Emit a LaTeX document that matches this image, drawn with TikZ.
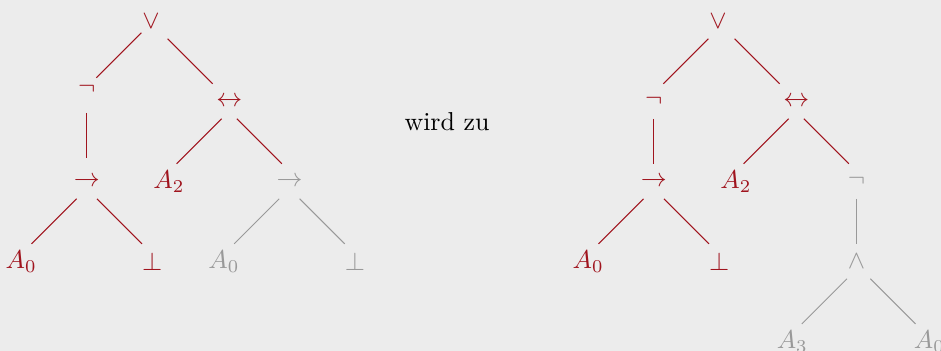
\documentclass[tikz,border=0pt]{standalone}
\usetikzlibrary{calc}
\definecolor{formred}{HTML}{A0141E}
\definecolor{formgray}{HTML}{999999}
\definecolor{paper}{HTML}{ECECEC}
\begin{document}
\begin{tikzpicture}[
  x=1pt, y=1pt,
  level distance=30.9pt,
  level 1/.style={sibling distance=55pt},
  level 2/.style={sibling distance=46.5pt},
  level 3/.style={sibling distance=50.6pt},
  level 4/.style={sibling distance=52.9pt},
  edge from parent path={let \p1=(\tikzparentnode.center), \p2=(\tikzchildnode.center),
    \n1={sign(\x2-\x1)} in
    ($(\p1)!.5!(\p2)$) +(-8.7pt*\n1,8.7pt) -- +(8.7pt*\n1,-8.7pt)},
  kept/.style={formred},
  dropped/.style={formgray}
]
\fill[paper] (0,0) rectangle (363.3,-135.5);
\useasboundingbox (0,0) rectangle (363.3,-135.5);

% before
\path[kept] (58.3,-8.2) node (lroot) {$\vee$}
  child { node[xshift=2.7pt, yshift=4.6pt] (lneg) {$\neg$}
    child { node[yshift=-4.6pt] (limp) {$\rightarrow$}
      child { node (la0) {$A_0$} }
      child { node (lbot) {$\bot$} }
    }
  }
  child { node[xshift=2.7pt] (liff) {$\leftrightarrow$}
    child { node (la2) {$A_2$} }
    child { node[dropped] (limpg) {$\rightarrow$}
      child[dropped] { node (la0g) {$A_0$} }
      child[dropped] { node (lbotg) {$\bot$} }
    }
  };

\node[anchor=base] (wz) at (172.6,-50.2) {wird zu};

% after
\path[kept] (277.2,-8.2) node (rroot) {$\vee$}
  child { node[xshift=2.7pt] (rneg) {$\neg$}
    child { node (rimp) {$\rightarrow$}
      child { node (ra0) {$A_0$} }
      child { node (rbot) {$\bot$} }
    }
  }
  child { node[xshift=2.7pt] (riff) {$\leftrightarrow$}
    child { node (ra2) {$A_2$} }
    child { node[dropped] (rnegg) {$\neg$}
      child[dropped] { node (rand) {$\wedge$}
        child { node[xshift=1.7pt] (ra3) {$A_3$} }
        child { node[xshift=1.7pt] (ra0g) {$A_0$} }
      }
    }
  };
\end{tikzpicture}
\end{document}
